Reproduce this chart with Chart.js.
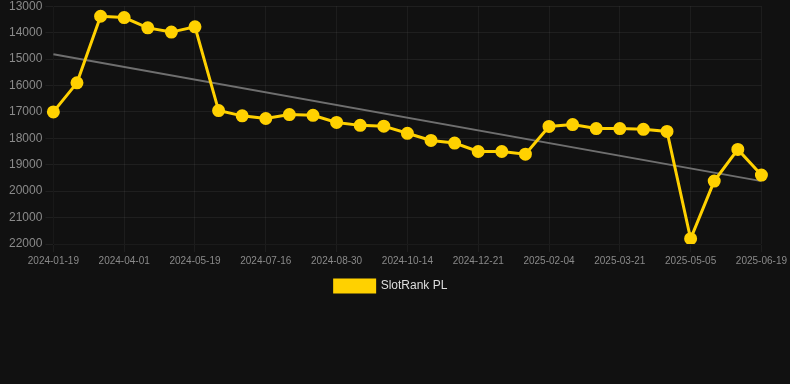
<!DOCTYPE html>
<html>
<head>
<meta charset="utf-8">
<script src="https://cdn.jsdelivr.net/npm/chart.js@4"></script>
<style>
  html, body { margin: 0; padding: 0; background: #111111; overflow: hidden; }
  #wrap { width: 790px; height: 388px; position: relative; top: -4px; }
</style>
</head>
<body>
<div id="wrap"><canvas id="rank-chart"></canvas></div>
<script>
const dates = [
    '2024-01-19', '2024-02-12', '2024-03-07', '2024-04-01', '2024-04-17', '2024-05-03',
    '2024-05-19', '2024-06-08', '2024-06-27', '2024-07-16', '2024-07-31', '2024-08-15',
    '2024-08-30', '2024-09-14', '2024-09-29', '2024-10-14', '2024-11-06', '2024-11-28',
    '2024-12-21', '2025-01-05', '2025-01-20', '2025-02-04', '2025-02-19', '2025-03-06',
    '2025-03-21', '2025-04-05', '2025-04-20', '2025-05-05', '2025-05-20', '2025-06-04',
    '2025-06-19'
];
const rankValues = [
    17000, 15900, 13380, 13430, 13820, 13980, 13780, 16950, 17150, 17250, 17100,
    17130, 17400, 17510, 17540, 17810, 18080, 18180, 18500, 18500, 18600, 17550,
    17480, 17630, 17630, 17660, 17740, 21800, 19620, 18420, 19390
];
// trend line: only start and end
const trendStart = 14820;
const trendEnd = 19620;
const yTicks = [13000, 14000, 15000, 16000, 17000, 18000, 19000, 20000, 21000, 22000];

const trendValues = dates.map((d, i) => {
    if (i === 0) return trendStart;
    if (i === dates.length - 1) return trendEnd;
    return null;
});

const ctx = document.getElementById('rank-chart');

new Chart(ctx, {
    type: 'line',
    data: {
        labels: dates,
        datasets: [{
            label: 'SlotRank PL',
            data: rankValues,
            borderColor: '#ffd100',
            backgroundColor: '#ffd100',
            borderWidth: 3,
            pointRadius: 5,
            pointHoverRadius: 6,
            tension: 0
        },
        {
            label: 'trend',
            data: trendValues,
            borderColor: '#6f6f6f',
            borderWidth: 2,
            pointRadius: 0,
            spanGaps: true
        }]
    },
    options: {
        responsive: true,
        maintainAspectRatio: false,
        animation: false,
        layout: {
            // right padding mostly moves the legend a bit left, like the original
            padding: { bottom: 82, right: 8 }
        },
        plugins: {
            legend: {
                position: 'bottom',
                labels: {
                    color: '#dddddd',
                    font: { family: 'Liberation Sans, Arial', size: 12 },
                    filter: item => item.text !== 'trend'
                }
            },
            tooltip: { enabled: false }
        },
        scales: {
            x: {
                grid: {
                    color: c => (c.index % 3 === 0 ? 'rgba(255,255,255,0.05)' : 'rgba(0,0,0,0)')
                },
                ticks: {
                    color: '#8a8a8a',
                    font: { family: 'Liberation Sans, Arial', size: 10 },
                    autoSkip: false,
                    maxRotation: 0,
                    callback: function (value, index) {
                        return index % 3 === 0 ? dates[index] : '';
                    }
                }
            },
            y: {
                reverse: true,
                min: yTicks[0],
                max: yTicks[yTicks.length - 1],
                afterFit: axis => { axis.width += 6; },
                grid: { color: 'rgba(255,255,255,0.06)' },
                afterBuildTicks: axis => {
                    axis.ticks = yTicks.map(v => ({ value: v }));
                },
                ticks: {
                    color: '#8a8a8a',
                    font: { family: 'Liberation Sans, Arial', size: 12 },
                    callback: value => String(value)
                }
            }
        }
    }
});
</script>
</body>
</html>
